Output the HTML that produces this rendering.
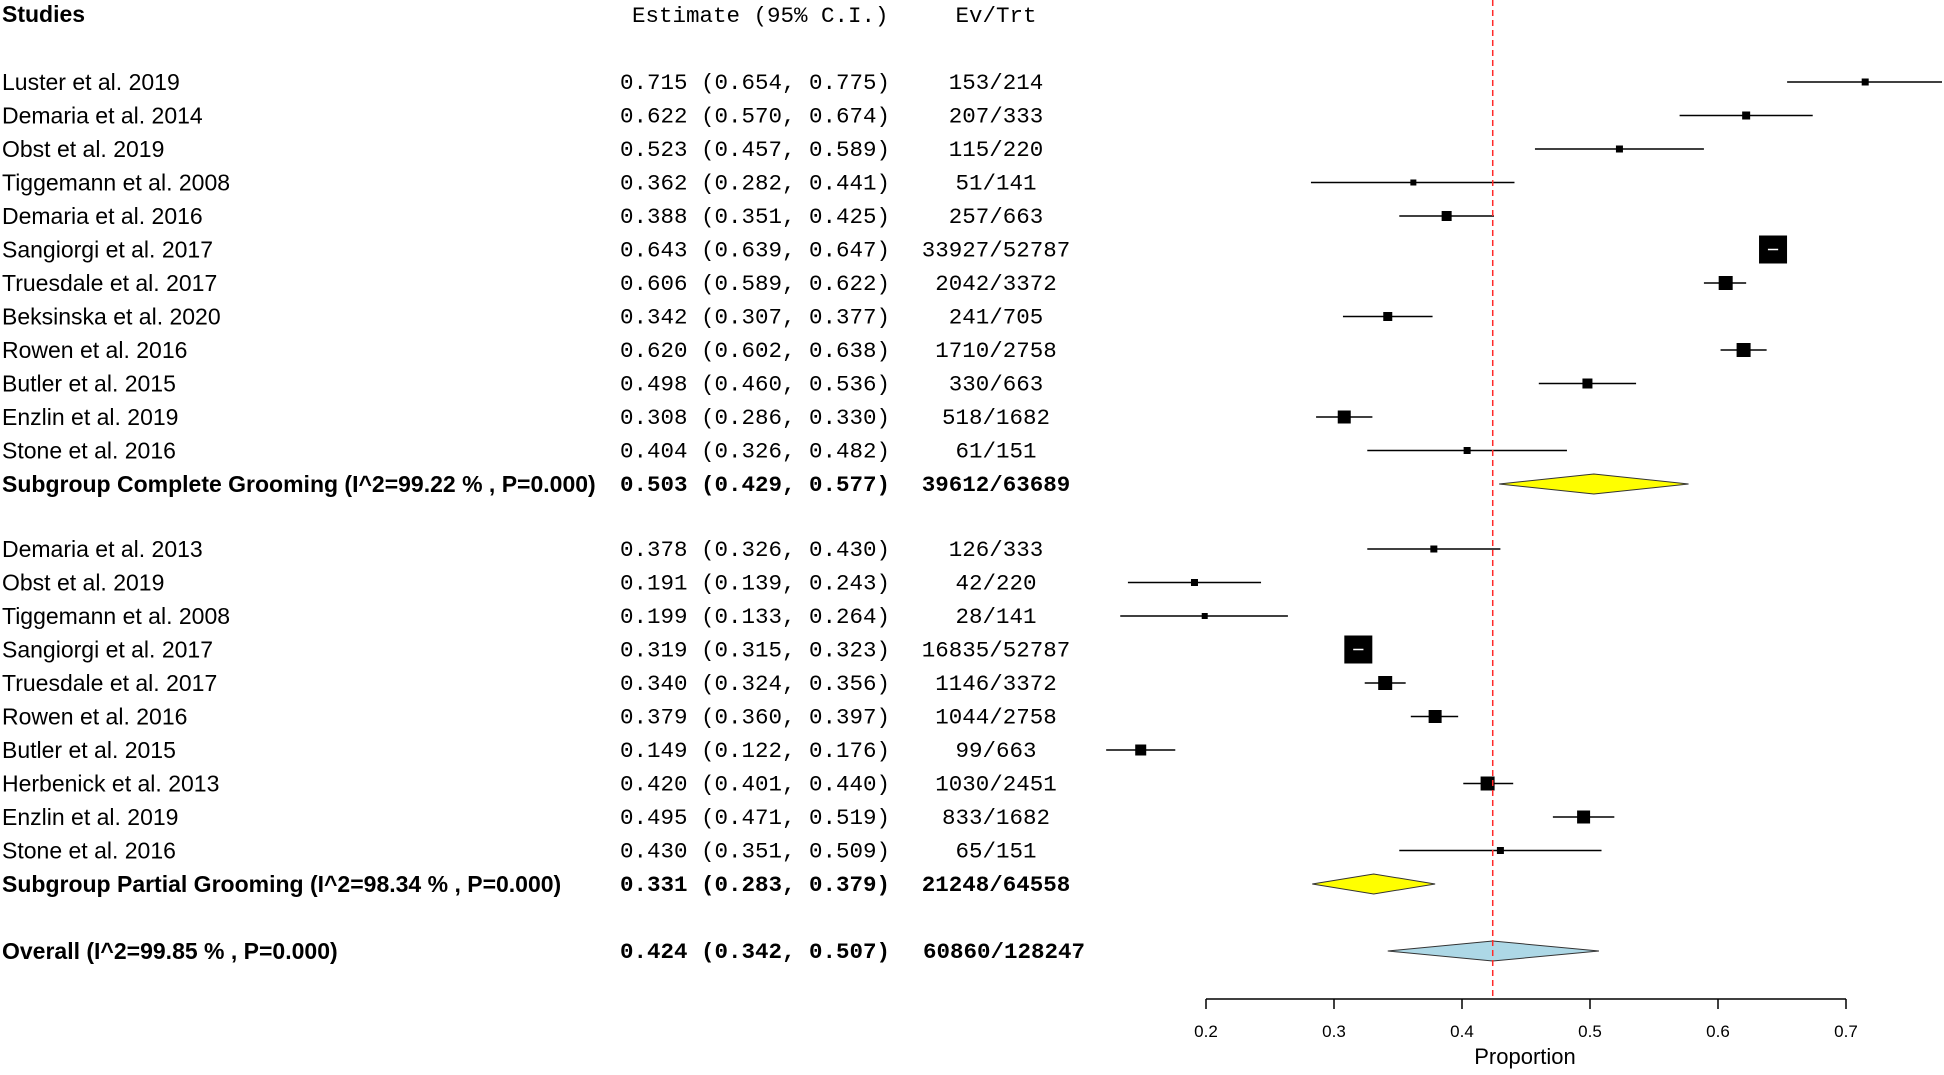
<!DOCTYPE html>
<html><head><meta charset="utf-8"><style>
body{margin:0;background:#fff}
svg text{fill:#000}
.s{font-family:"Liberation Sans",sans-serif;font-size:23px}
.m{font-family:"Liberation Mono",monospace;font-size:22.5px}
.b{font-weight:bold}
</style></head><body>
<svg id="c" width="1944" height="1070" xmlns="http://www.w3.org/2000/svg"></svg>
<script>
const studies1=["Luster et al. 2019","Demaria et al. 2014","Obst et al. 2019","Tiggemann et al. 2008","Demaria et al. 2016","Sangiorgi et al. 2017","Truesdale et al. 2017","Beksinska et al. 2020","Rowen et al. 2016","Butler et al. 2015","Enzlin et al. 2019","Stone et al. 2016"];
const est1=[0.715,0.622,0.523,0.362,0.388,0.643,0.606,0.342,0.620,0.498,0.308,0.404];
const lo1=[0.654,0.570,0.457,0.282,0.351,0.639,0.589,0.307,0.602,0.460,0.286,0.326];
const hi1=[0.775,0.674,0.589,0.441,0.425,0.647,0.622,0.377,0.638,0.536,0.330,0.482];
const ev1=["153/214","207/333","115/220","51/141","257/663","33927/52787","2042/3372","241/705","1710/2758","330/663","518/1682","61/151"];
const size1=[7,8,7,6,10,28,14,9,14,10,13,7];
const studies2=["Demaria et al. 2013","Obst et al. 2019","Tiggemann et al. 2008","Sangiorgi et al. 2017","Truesdale et al. 2017","Rowen et al. 2016","Butler et al. 2015","Herbenick et al. 2013","Enzlin et al. 2019","Stone et al. 2016"];
const est2=[0.378,0.191,0.199,0.319,0.340,0.379,0.149,0.420,0.495,0.430];
const lo2=[0.326,0.139,0.133,0.315,0.324,0.360,0.122,0.401,0.471,0.351];
const hi2=[0.430,0.243,0.264,0.323,0.356,0.397,0.176,0.440,0.519,0.509];
const ev2=["126/333","42/220","28/141","16835/52787","1146/3372","1044/2758","99/663","1030/2451","833/1682","65/151"];
const size2=[7,7,6,28,14,13,11,14,13,7];
const summaries=[
 {label:"Subgroup Complete Grooming (I^2=99.22 % , P=0.000)",est:0.503,lo:0.429,hi:0.577,ev:"39612/63689",color:"#ffff00"},
 {label:"Subgroup Partial Grooming (I^2=98.34 % , P=0.000)",est:0.331,lo:0.283,hi:0.379,ev:"21248/64558",color:"#ffff00"},
 {label:"Overall (I^2=99.85 % , P=0.000)",est:0.424,lo:0.342,hi:0.507,ev:"60860/128247",color:"#add8e6"}];
const ticks=[0.2,0.3,0.4,0.5,0.6,0.7];
const refLine=0.424;

const svg=document.getElementById('c');
const NS="http://www.w3.org/2000/svg";
const X=v=>1206+(v-0.2)*1280;
const EVX=996;
function mk(tag,attrs,txt){const e=document.createElementNS(NS,tag);for(const k in attrs)e.setAttribute(k,attrs[k]);if(txt!==undefined)e.textContent=txt;svg.appendChild(e);return e;}
function fmt(v){return v.toFixed(3);}
let t;
t=mk('text',{x:2,y:22,class:'s b'},'Studies');


t=mk('text',{x:632,y:22,class:'m'},'Estimate (95% C.I.)');


t=mk('text',{x:EVX,y:22,class:'m','text-anchor':'middle'},'Ev/Trt');



function row(name,e,l,h,ev,sz,y,i){
 let a=mk('text',{x:2,y:y+8,class:'s'},name);
 
 
 a=mk('text',{x:620,y:y+7,class:'m'},fmt(e)+' ('+fmt(l)+', '+fmt(h)+')');
 
 
 a=mk('text',{x:EVX,y:y+7,class:'m','text-anchor':'middle'},ev);
 
 
 a=mk('line',{x1:X(l),x2:X(h),y1:y,y2:y,stroke:'#000','stroke-width':1.5});
 
 
 a=mk('rect',{x:X(e)-sz/2,y:y-sz/2,width:sz,height:sz,fill:'#000'});
 
 
 if(sz>20&&X(h)-X(l)<sz){a=mk('line',{x1:X(l),x2:X(h),y1:y,y2:y,stroke:'#fff','stroke-width':1.5});
 
 }
}
function summ(s,y){
 let a=mk('text',{x:2,y:y+8,class:'s b'},s.label);
 
 
 a=mk('text',{x:620,y:y+7,class:'m b'},fmt(s.est)+' ('+fmt(s.lo)+', '+fmt(s.hi)+')');
 
 
 a=mk('text',{x:EVX+(s.ev.length>11?8:0),y:y+7,class:'m b','text-anchor':'middle'},s.ev);
 
 
 a=mk('polygon',{points:`${X(s.lo)},${y} ${X(s.est)},${y-10} ${X(s.hi)},${y} ${X(s.est)},${y+10}`,fill:s.color,stroke:'#333','stroke-width':1});
 
 
}
const step=33.5;
studies1.forEach((n,i)=>row(n,est1[i],lo1[i],hi1[i],ev1[i],size1[i],82+i*step,i));
summ(summaries[0],82+12*step);
studies2.forEach((n,i)=>row(n,est2[i],lo2[i],hi2[i],ev2[i],size2[i],549+i*step,i));
summ(summaries[1],549+10*step);
summ(summaries[2],951);

t=mk('line',{x1:X(refLine),x2:X(refLine),y1:0,y2:999,stroke:'#ff2a2a','stroke-width':1.5,'stroke-dasharray':'6,4'});


t=mk('line',{x1:X(ticks[0]),x2:X(ticks[ticks.length-1]),y1:999,y2:999,stroke:'#000','stroke-width':1.5});


ticks.forEach(v=>{
 let a=mk('line',{x1:X(v),x2:X(v),y1:999,y2:1009,stroke:'#000','stroke-width':1.5});
 
 
 a=mk('text',{x:X(v),y:1037,'text-anchor':'middle',class:'s',style:'font-size:17px'},String(v));
 
 
});
t=mk('text',{x:1525,y:1064,'text-anchor':'middle',class:'s',style:'font-size:22px'},'Proportion');


</script>
</body></html>
